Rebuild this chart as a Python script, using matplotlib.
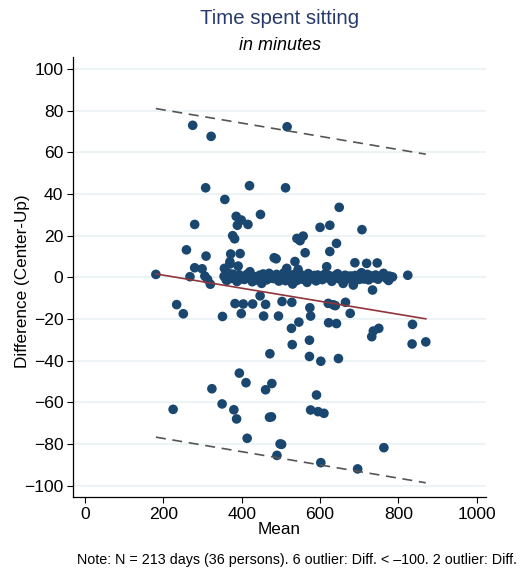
import numpy as np
import matplotlib
matplotlib.use("Agg")
import matplotlib.pyplot as plt

plt.rcParams["font.family"] = ["Liberation Sans", "DejaVu Sans"]

# points away from the zero band (mean, difference)
mean_vals = [181, 275, 322, 516, 308, 420, 512, 357, 649, 448,
             386, 399, 389, 416, 280, 600, 625, 707, 377, 382,
             541, 549, 557, 642, 259, 625, 562, 309, 372, 396,
             483, 488, 536, 689, 719, 746, 617, 280, 299, 356,
             370, 391, 370, 268, 306, 313, 320, 824, 734, 447,
             234, 251, 351, 383, 404, 428, 461, 399, 456, 494,
             503, 528, 574, 576, 546, 527, 573, 529, 621, 634,
             639, 665, 677, 622, 642, 836, 750, 736, 732, 835,
             870, 472, 573, 602, 647, 394, 411, 461, 477, 324,
             591, 225, 350, 380, 387, 471, 476, 576, 595, 610,
             414, 498, 502, 490, 602, 696, 763]
diff_vals = [1.4, 73.0, 67.7, 72.3, 43.0, 44.0, 43.0, 37.4, 33.6, 30.2,
             29.3, 27.5, 25.0, 25.4, 25.4, 24.0, 25.0, 22.9, 20.0, 18.5,
             18.7, 17.6, 19.8, 16.3, 13.2, 12.4, 11.8, 10.2, 11.2, 11.4,
             9.4, 8.9, 7.6, 7.0, 6.7, 6.9, 5.1, 4.6, 4.1, 4.3,
             6.4, 5.4, 7.5, 0.3, 0.6, -1.0, -3.3, 1.0, -6.1, -8.9,
             -13.1, -17.5, -18.8, -12.6, -12.8, -12.8, -13.0, -17.4, -18.6, -18.6,
             -11.6, -12.0, -14.6, -18.6, -21.5, -24.5, -30.2, -32.3, -12.5, -13.2,
             -13.6, -12.0, -17.3, -21.8, -22.2, -22.6, -24.5, -25.8, -28.5, -32.0,
             -31.0, -36.7, -38.0, -40.3, -39.0, -46.0, -50.6, -54.0, -51.0, -53.5,
             -56.5, -63.4, -60.8, -63.6, -68.0, -67.2, -67.0, -63.7, -64.5, -65.3,
             -77.3, -80.0, -80.2, -85.5, -89.0, -92.0, -81.8]

# dense band of days with almost no difference
band_mean = [355, 362, 368, 375, 381, 388, 394, 401, 407, 414,
             421, 427, 433, 440, 446, 451, 458, 464, 470, 476,
             482, 489, 495, 501, 508, 515, 521, 527, 530, 536,
             541, 544, 549, 555, 561, 567, 573, 579, 585, 590,
             594, 600, 606, 612, 618, 624, 630, 636, 642, 648,
             654, 659, 664, 670, 676, 682, 685, 690, 696, 702,
             706, 712, 718, 724, 730, 736, 742, 748, 754, 762,
             770, 777, 785, 360, 378, 397, 418, 437, 455, 473,
             492, 512, 533, 552, 570, 588, 609, 627, 645, 663,
             681, 700, 721, 740, 758, 775]
band_diff = [0.5, -1.5, 1.8, -0.5, 0.8, -2.0, 1.2, 0.0, -1.0, 1.5,
             2.7, -2.1, 0.3, -0.8, 1.0, -2.9, 0.6, -1.2, 1.9, 0.2,
             -0.6, 1.4, -1.8, 0.4, 2.2, 4.3, -0.3, 1.0, -3.2, 0.7,
             -1.5, 3.8, 1.6, -0.9, 0.2, -2.4, 1.1, -0.4, 0.9, -1.7,
             1.1, 0.3, -1.1, 1.5, -0.2, 0.8, -1.9, 0.5, 1.2, -0.7,
             0.1, -2.9, 1.0, -0.3, 0.6, -1.4, -3.7, 0.9, -0.5, 1.3,
             2.2, -0.8, 0.4, -1.2, 0.7, -0.1, 1.1, -0.9, 0.3, 1.9,
             -0.6, 0.6, 0.2, -1.0, 1.5, -0.8, 0.6, -1.3, 1.6, -0.4,
             0.9, -1.6, 1.3, -0.5, 1.8, -1.1, 0.4, -0.6, 1.7, -1.3,
             0.5, -1.0, 1.4, -0.2, 0.8, -1.5]

# regression of difference on mean, and limits of agreement
reg_intercept = 7.3
reg_slope = -0.0313
loa_upper_intercept = 86.8
loa_lower_intercept = -71.0
loa_slope = -0.0318
line_range = [181, 870]

xticks = [0, 200, 400, 600, 800, 1000]
yticks = [-100, -80, -60, -40, -20, 0, 20, 40, 60, 80, 100]

x_all = np.array(mean_vals + band_mean)
y_all = np.array(diff_vals + band_diff)

fig = plt.figure(figsize=(5.24, 5.69), dpi=100)
ax = fig.add_axes([0.1393, 0.1265, 0.7882, 0.7733])

ax.scatter(x_all, y_all, s=48, color="#1a476f", edgecolors="none", zorder=3)

xl = np.array(line_range)
ax.plot(xl, reg_intercept + reg_slope * xl, color="#90353b", lw=1.2, zorder=4)
ax.plot(xl, loa_upper_intercept + loa_slope * xl, color="#555555", lw=1.2,
        ls=(0, (6, 4)), zorder=4)
ax.plot(xl, loa_lower_intercept + loa_slope * xl, color="#555555", lw=1.2,
        ls=(0, (6, 4)), zorder=4)

ax.set_xlim(-30.6, 1023.7)
ax.set_ylim(-105.5, 105.8)
ax.set_xticks(xticks)
ax.set_yticks(yticks)
ax.tick_params(labelsize=12.6, length=4, width=0.8, color="black", pad=3)
ax.yaxis.grid(True, color="#eaf2f3", lw=1.2, zorder=0)
ax.set_axisbelow(True)
for s in ["top", "right"]:
    ax.spines[s].set_visible(False)
for s in ["left", "bottom"]:
    ax.spines[s].set_linewidth(0.9)

ax.set_xlabel("Mean", fontsize=12.3, labelpad=0)
ax.set_ylabel("Difference (Center-Up)", fontsize=12.3)
ax.yaxis.set_label_coords(-0.105, 0.49)

fig.text(0.534, 0.958, "Time spent sitting", ha="center", fontsize=14.7, color="#283a6b")
fig.text(0.534, 0.913, "in minutes", ha="center", fontsize=13, style="italic")
fig.text(0.147, 0.009, "Note: N = 213 days (36 persons). 6 outlier: Diff. < \u2013100. 2 outlier: Diff.",
         fontsize=10.3, ha="left")

fig.savefig("out.png", dpi=100)
